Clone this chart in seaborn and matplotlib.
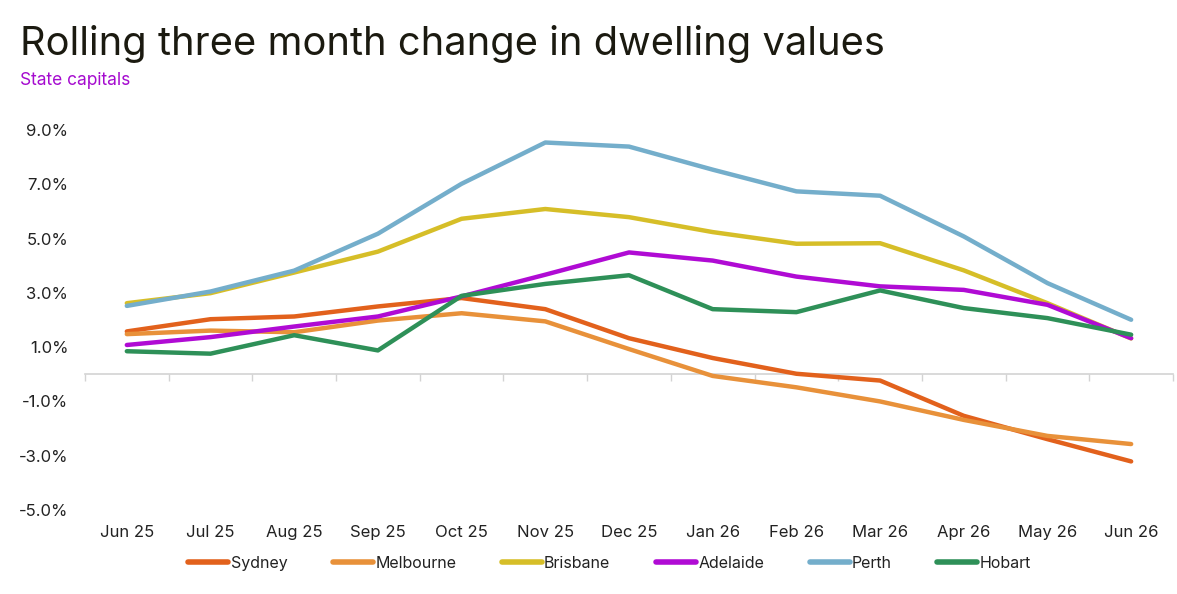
import matplotlib
matplotlib.use("Agg")
import matplotlib.pyplot as plt
import seaborn as sns
import pandas as pd
import numpy as np

months = ["Jun 25", "Jul 25", "Aug 25", "Sep 25", "Oct 25", "Nov 25", "Dec 25",
          "Jan 26", "Feb 26", "Mar 26", "Apr 26", "May 26", "Jun 26"]

sydney    = [1.58, 2.03, 2.13, 2.50, 2.81, 2.40, 1.33, 0.60, 0.02, -0.23, -1.53, -2.39, -3.21]
melbourne = [1.48, 1.61, 1.55, 1.98, 2.25, 1.95, 0.93, -0.06, -0.48, -1.00, -1.68, -2.27, -2.57]
brisbane  = [2.62, 2.99, 3.75, 4.52, 5.73, 6.09, 5.79, 5.24, 4.81, 4.83, 3.83, 2.62, 1.32]
adelaide  = [1.08, 1.37, 1.76, 2.13, 2.87, 3.67, 4.49, 4.19, 3.60, 3.24, 3.11, 2.56, 1.33]
perth     = [2.52, 3.05, 3.82, 5.18, 7.02, 8.54, 8.39, 7.54, 6.74, 6.58, 5.08, 3.36, 2.01]
hobart    = [0.85, 0.76, 1.44, 0.88, 2.89, 3.33, 3.65, 2.40, 2.29, 3.09, 2.44, 2.07, 1.46]

cities = ["Sydney", "Melbourne", "Brisbane", "Adelaide", "Perth", "Hobart"]
series = [sydney, melbourne, brisbane, adelaide, perth, hobart]
colors = ["#E2611C", "#E8913A", "#D6BE28", "#B00BD4", "#74AECB", "#2E9058"]

yticks = [-5, -3, -1, 1, 3, 5, 7, 9]

rows = []
for c, vals in zip(cities, series):
    for i, (m, v) in enumerate(zip(months, vals)):
        rows.append({"idx": i, "month": m, "city": c, "value": v})
df = pd.DataFrame(rows)

sns.set_theme(style="white")
plt.rcParams["font.family"] = ["Inter", "DejaVu Sans"]

fig = plt.figure(figsize=(11.77, 5.94), dpi=100)
ax = fig.add_axes([0.0722, 0.1414, 0.9244, 0.6397])

sns.lineplot(data=df, x="idx", y="value", hue="city", hue_order=cities,
             palette=dict(zip(cities, colors)), linewidth=3.2, ax=ax,
             legend=True, sort=False)
for ln in ax.get_lines():
    ln.set_solid_capstyle("round")
    ln.set_solid_joinstyle("round")

ax.set_xlim(-0.5, len(months) - 0.5)
ax.set_ylim(-5, 9)
ax.set_yticks(yticks)
ax.set_yticklabels([f"{v:.1f}%" for v in yticks])
ax.set_xticks(range(len(months)))
ax.set_xticklabels(months)
ax.set_xlabel("")
ax.set_ylabel("")
for s in ax.spines.values():
    s.set_visible(False)
ax.tick_params(axis="both", length=0, labelsize=12, labelcolor="#222222")
ax.tick_params(axis="y", pad=12)
ax.tick_params(axis="x", pad=11)

# zero axis line with boundary ticks
sec = ax.secondary_xaxis(5 / 14)
sec.set_xticks(np.arange(-0.5, len(months), 1.0))
sec.set_xticklabels([])
sec.tick_params(axis="x", length=5, width=1, color="#d3d3d3", direction="out")
sec.spines["bottom"].set_color("#d3d3d3")
sec.spines["bottom"].set_linewidth(1.2)
for k in ("top", "left", "right"):
    if k in sec.spines:
        sec.spines[k].set_visible(False)

# legend
handles, labels = ax.get_legend_handles_labels()
for h in handles:
    h.set_linewidth(4)
    h.set_solid_capstyle("round")
ax.legend(handles, labels, loc="center", bbox_to_anchor=(0.518, 0.052),
          bbox_transform=fig.transFigure, ncol=6, frameon=False,
          fontsize=11.5, handlelength=2.5, handletextpad=0.15, columnspacing=2.85,
          labelcolor="#222222")

fig.text(0.017, 0.907, "Rolling three month change in dwelling values",
         fontsize=28.7, color="#1b1a10", ha="left", va="baseline")
fig.text(0.017, 0.857, "State capitals", fontsize=12.5, color="#A50BCF",
         ha="left", va="baseline")

fig.savefig("out.png", dpi=100)
